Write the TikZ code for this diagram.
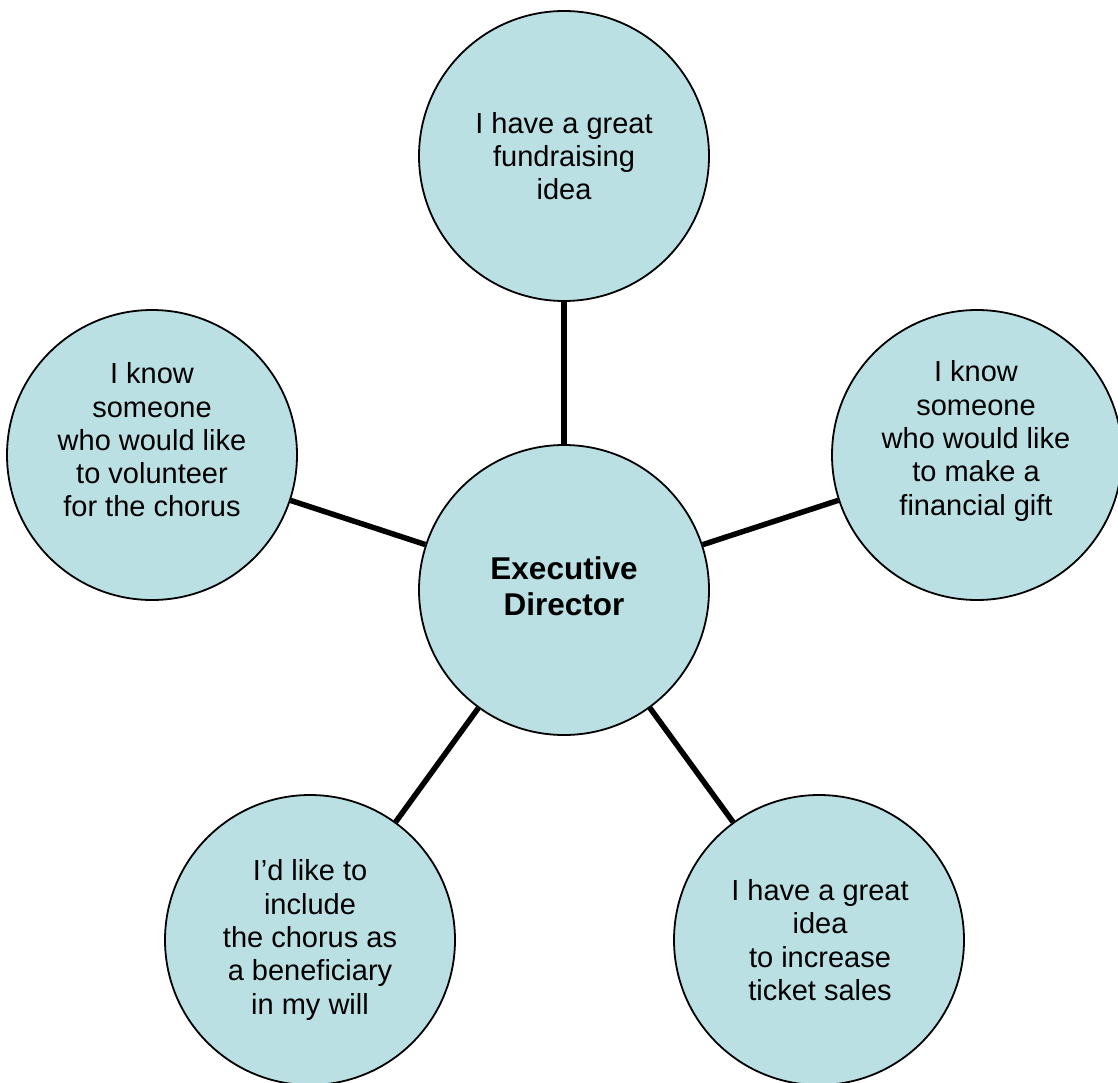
\documentclass[tikz,border=0pt]{standalone}
\usepackage{fontspec}
\setmainfont{Liberation Sans}
\definecolor{bubblefill}{RGB}{186,224,227}
\begin{document}
\begin{tikzpicture}[x=1pt,y=-1pt,
  bubble/.style={circle,draw=black,line width=1.8pt,fill=bubblefill,minimum size=290pt,inner sep=0pt},
  txt/.style={align=center,inner sep=0pt,font=\fontsize{29}{33.3}\selectfont},
  maintxt/.style={align=center,inner sep=0pt,font=\fontsize{31.5}{36.2}\selectfont\bfseries},
  link/.style={line width=5.5pt,draw=black}]
\useasboundingbox (0,0) rectangle (1118,1083);
\node[bubble] (center) at (564,590) {};
\node[bubble] (top) at (564,156) {};
\node[bubble] (left) at (152,455) {};
\node[bubble] (right) at (977,455) {};
\node[bubble] (bleft) at (310,940) {};
\node[bubble] (bright) at (819,940) {};
\draw[link] (center) -- (top);
\draw[link] (center) -- (left);
\draw[link] (center) -- (right);
\draw[link] (center) -- (bleft);
\draw[link] (center) -- (bright);
\node[maintxt] (centertxt) at (564,586) {Executive\\Director};
\node[txt] (toptxt) at (564,156) {I have a great\\fundraising\\idea};
\node[txt] (lefttxt) at (152,440) {I know\\someone\\who would like\\to volunteer\\for the chorus};
\node[txt] (righttxt) at (976,441) {I know\\someone\\who would like\\to make a\\financial gift};
\node[txt] (blefttxt) at (310,940) {I’d like to\\include\\the chorus as\\a beneficiary\\in my will};
\node[txt] (brighttxt) at (820,940) {I have a great\\idea\\to increase\\ticket sales};
\end{tikzpicture}
\end{document}
